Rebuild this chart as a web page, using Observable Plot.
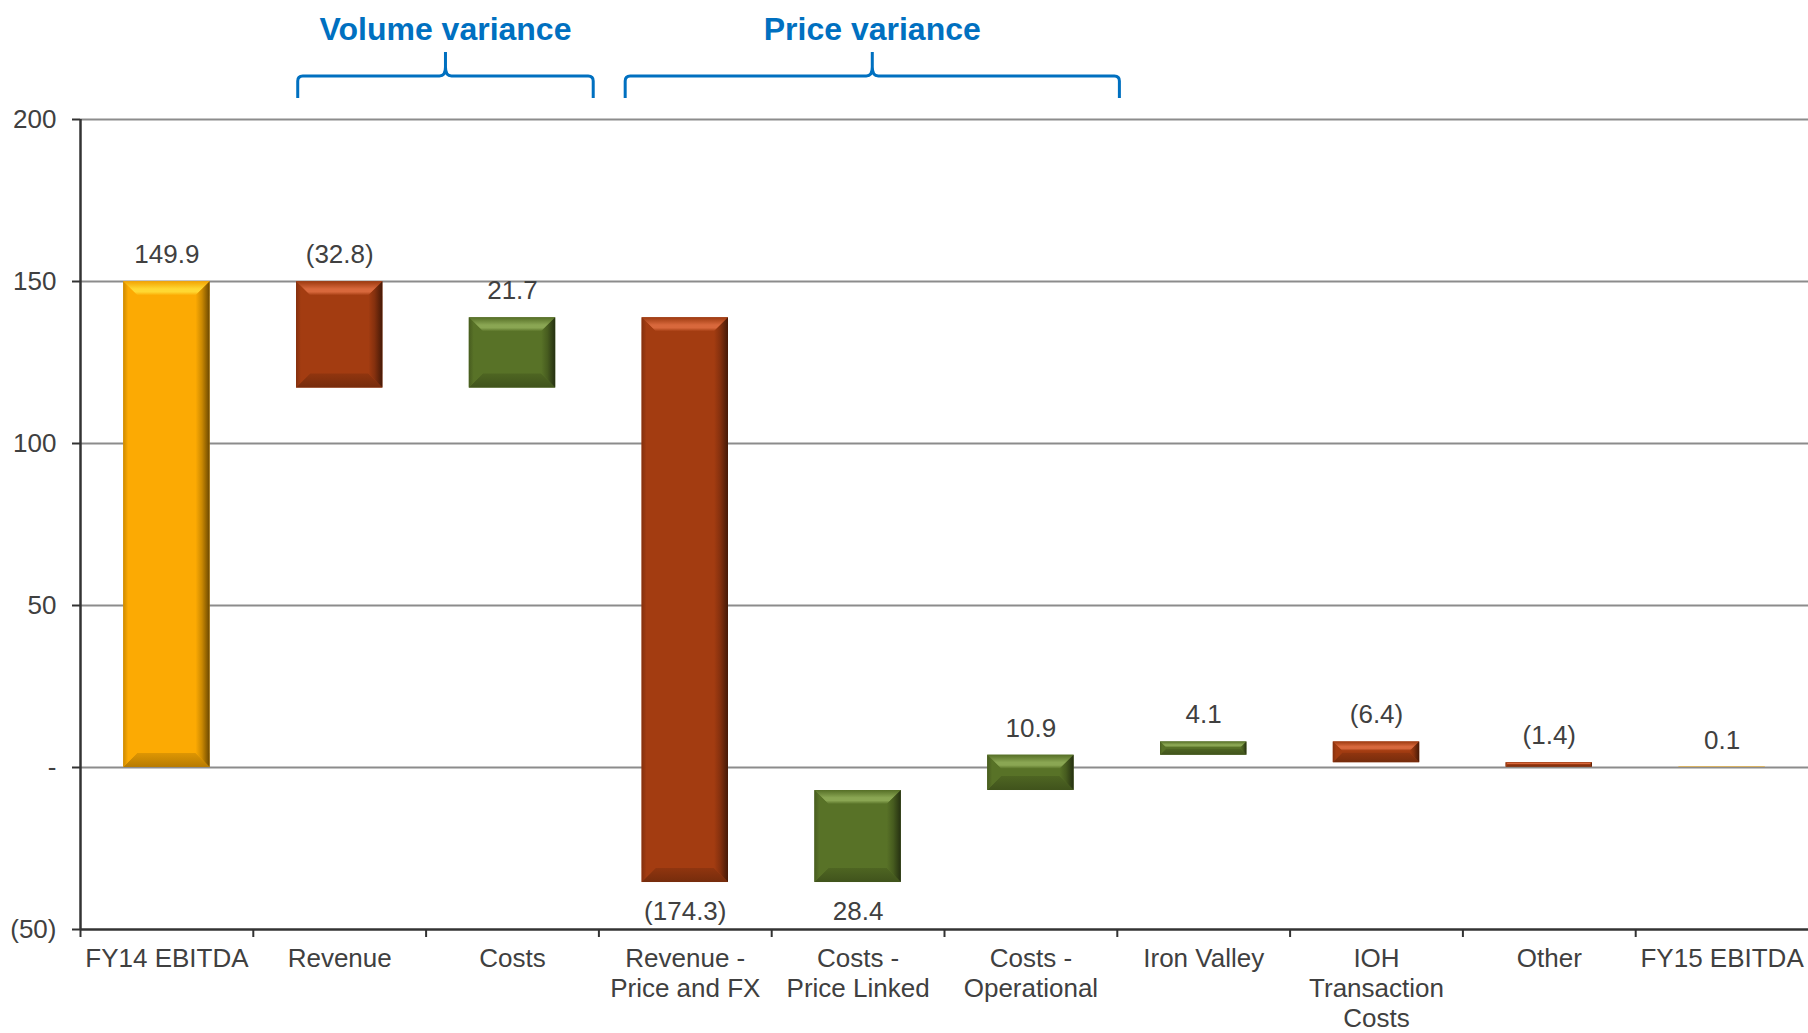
<!DOCTYPE html>
<html>
<head>
<meta charset="utf-8">
<script src="https://cdn.jsdelivr.net/npm/d3@7"></script>
<script src="https://cdn.jsdelivr.net/npm/@observablehq/plot@0.6"></script>
<style>
  html, body { margin: 0; padding: 0; background: #fff; overflow: hidden; }
  #chart svg { display: block; }
</style>
</head>
<body>
<div id="chart"></div>
<script>
// EBITDA bridge, FY14 to FY15 (US$m)
const categories = [
  "FY14 EBITDA", "Revenue", "Costs", "Revenue - Price and FX", "Costs - Price Linked",
  "Costs - Operational", "Iron Valley", "IOH Transaction Costs", "Other", "FY15 EBITDA"
];
const tickLabels = [
  "FY14 EBITDA", "Revenue", "Costs", "Revenue -\nPrice and FX", "Costs -\nPrice Linked",
  "Costs -\nOperational", "Iron Valley", "IOH\nTransaction\nCosts", "Other", "FY15 EBITDA"
];
const changes = [149.9, -32.8, 21.7, -174.3, 28.4, 10.9, 4.1, -6.4, -1.4, 0.1];
const kinds = ["total", "decrease", "increase", "decrease", "increase", "increase", "increase", "decrease", "decrease", "total"];
const labelsBelow = ["Revenue - Price and FX", "Costs - Price Linked"];
const yTicks = [-50, 0, 50, 100, 150, 200];
const groupLabels = ["Volume variance", "Price variance"];
const groupFrom = ["Revenue", "Revenue - Price and FX"];
const groupTo = ["Costs", "Costs - Operational"];

const kindColor = { total: "#FCAA03", decrease: "#A33C11", increase: "#587227" };
const kindLight = { total: "#FFD832", decrease: "#D8683C", increase: "#8AA653" };
const textColor = "#404040";
const accent = "#0070C0";

// running totals for the waterfall
let running = 0;
const steps = categories.map((category, i) => {
  const kind = kinds[i], change = changes[i];
  const start = kind === "total" ? 0 : running;
  const end = kind === "total" ? change : running + change;
  running = end;
  return {
    category, kind, change, start, end,
    top: Math.max(start, end), bottom: Math.min(start, end),
    below: labelsBelow.includes(category)
  };
});

const fmtValue = v => v < 0 ? `(${Math.abs(v).toFixed(1)})` : v.toFixed(1);
const fmtTick = v => v === 0 ? "-" : v < 0 ? `(${-v})` : String(v);

const W = 1808, H = 1033;
const M = { top: 119, right: 0, bottom: 104, left: 80 };
const step = (W - M.left - M.right) / categories.length;
const font = "'Liberation Sans', Arial, sans-serif";
const fontSize = 26;

// bevelled faces drawn over each bar
function bevels(index, scales) {
  const { x, y } = scales;
  const bw = x.bandwidth();
  const g = d3.create("svg:g");
  const defs = g.append("defs");
  const grad = (id, vertical, stops) => {
    const lg = defs.append("linearGradient").attr("id", id)
      .attr("x1", 0).attr("y1", 0).attr("x2", vertical ? 0 : 1).attr("y2", vertical ? 1 : 0);
    stops.forEach(([o, c]) => lg.append("stop").attr("offset", o).attr("stop-color", c));
    return `url(#${id})`;
  };
  steps.forEach((d, i) => {
    const base = d3.color(kindColor[d.kind]);
    const x0 = x(d.category), x1 = x0 + bw;
    const y0 = y(d.top), y1 = y(d.bottom);
    const b = Math.min(14, (y1 - y0) * 0.45);
    const poly = (pts, fill) => g.append("polygon")
      .attr("points", pts.map(p => p.join(",")).join(" ")).attr("fill", fill);
    poly([[x0, y0], [x1, y0], [x1 - b, y0 + b], [x0 + b, y0 + b]],
      grad(`bt${i}`, true, [[0, base.darker(0.1)], [0.55, kindLight[d.kind]], [0.75, kindLight[d.kind]], [1, base]]));
    poly([[x0, y1], [x1, y1], [x1 - b, y1 - b], [x0 + b, y1 - b]],
      grad(`bb${i}`, true, [[0, base.darker(0.35)], [1, base.darker(0.9)]]));
    poly([[x0, y0], [x0 + b, y0 + b], [x0 + b, y1 - b], [x0, y1]],
      grad(`bl${i}`, false, [[0, base.darker(0.6)], [0.35, base], [1, base]]));
    poly([[x1, y0], [x1, y1], [x1 - b, y1 - b], [x1 - b, y0 + b]],
      grad(`br${i}`, false, [[0, base], [0.45, base.darker(0.6)], [1, base.darker(2.4)]]));
  });
  return g.node();
}

// group braces with their headings
function braces(index, scales) {
  const { x } = scales;
  const bw = x.bandwidth();
  const center = c => x(c) + bw / 2;
  const spanOut = [[-0.24, 0.47], [-0.345, 0.515]];
  const g = d3.create("svg:g");
  groupLabels.forEach((label, i) => {
    const L = center(groupFrom[i]) + spanOut[i][0] * step;
    const R = center(groupTo[i]) + spanOut[i][1] * step;
    const C = (L + R) / 2;
    const yb = 98, ym = 76, yt = 52, r = 5;
    const path = `M${L},${yb} V${ym + r} Q${L},${ym} ${L + r},${ym} H${C - 6} Q${C},${ym} ${C},${ym - 9} V${yt}`
      + ` M${C},${ym - 9} Q${C},${ym} ${C + 6},${ym} H${R - r} Q${R},${ym} ${R},${ym + r} V${yb}`;
    g.append("path").attr("d", path).attr("fill", "none")
      .attr("stroke", accent).attr("stroke-width", 3).attr("stroke-linejoin", "round");
    g.append("text").attr("x", C).attr("y", 28).attr("dy", "0.36em")
      .attr("text-anchor", "middle").attr("fill", accent)
      .attr("font-family", font).attr("font-weight", "bold").attr("font-size", 32)
      .text(label);
  });
  return g.node();
}

const chart = Plot.plot({
  width: W, height: H,
  marginTop: M.top, marginRight: M.right, marginBottom: M.bottom, marginLeft: M.left,
  style: { fontFamily: font, fontSize: `${fontSize}px`, color: textColor, background: "#fff", overflow: "visible" },
  x: { domain: categories, paddingInner: 0.5, paddingOuter: 0.25, round: false, axis: null },
  y: { domain: [-50, 200] },
  color: { type: "identity" },
  marks: [
    Plot.ruleY([0, 50, 100, 150, 200], { stroke: "#8C8C8C", strokeWidth: 2 }),
    Plot.barY(steps, { x: "category", y1: "start", y2: "end", fill: d => kindColor[d.kind] }),
    bevels,
    Plot.ruleY([-50], { stroke: "#333", strokeWidth: 2.5 }),
    Plot.ruleX([categories[0]], { dx: -step / 2, y1: -50, y2: 200, stroke: "#333", strokeWidth: 2.5 }),
    Plot.ruleX(categories, { dx: -step / 2, y1: -50, y2: -50, insetBottom: -8, stroke: "#333", strokeWidth: 2 }),
    Plot.axisY(yTicks, {
      tickFormat: fmtTick, tickSize: 8, tickPadding: 16, stroke: "#333", strokeWidth: 2,
      fill: textColor, fontSize, label: null
    }),
    Plot.text(steps.filter(d => !d.below), {
      x: "category", y: "top", dy: -27, text: d => fmtValue(d.change), fill: textColor, fontSize
    }),
    Plot.text(steps.filter(d => d.below), {
      x: "category", y: "bottom", dy: 29, text: d => fmtValue(d.change), fill: textColor, fontSize
    }),
    Plot.text(categories, {
      x: d => d, frameAnchor: "bottom", dy: 16, lineAnchor: "top", lineHeight: 1.15,
      text: (d, i) => tickLabels[i], fill: textColor, fontSize
    }),
    braces
  ]
});

document.getElementById("chart").append(chart);
</script>
</body>
</html>
